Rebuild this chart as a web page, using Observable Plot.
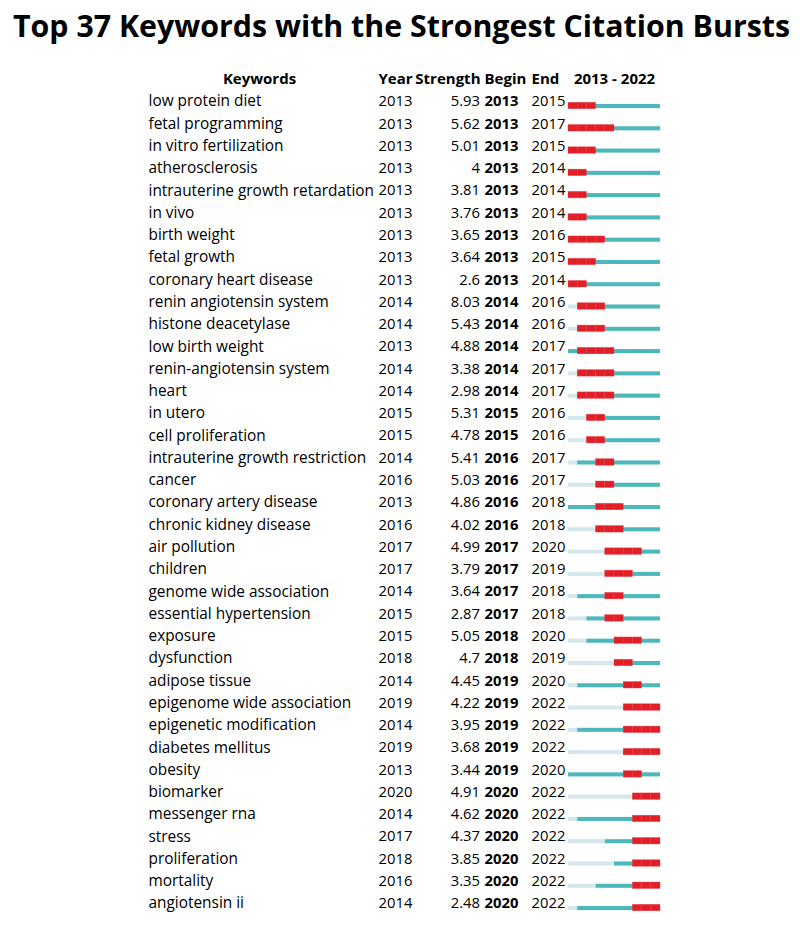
<!DOCTYPE html>
<html><head><meta charset="utf-8">
<script src="https://cdn.jsdelivr.net/npm/d3@7"></script>
<script src="https://cdn.jsdelivr.net/npm/@observablehq/plot@0.6"></script>
<style>
body{margin:0;background:#fff;width:800px;overflow:hidden;}
#title{height:55px;width:800px;position:relative;}
#title span{position:absolute;left:13px;top:5px;font-family:"Open Sans";font-weight:700;font-size:31px;line-height:40px;white-space:nowrap;color:#000;transform-origin:0 0;}
</style></head><body>
<div id="title"><span id="tt">Top 37 Keywords with the Strongest Citation Bursts</span></div>
<div id="chart"></div>
<script>
const keywords = ["low protein diet","fetal programming","in vitro fertilization","atherosclerosis","intrauterine growth retardation","in vivo","birth weight","fetal growth","coronary heart disease","renin angiotensin system","histone deacetylase","low birth weight","renin-angiotensin system","heart","in utero","cell proliferation","intrauterine growth restriction","cancer","coronary artery disease","chronic kidney disease","air pollution","children","genome wide association","essential hypertension","exposure","dysfunction","adipose tissue","epigenome wide association","epigenetic modification","diabetes mellitus","obesity","biomarker","messenger rna","stress","proliferation","mortality","angiotensin ii"];
const years = [2013,2013,2013,2013,2013,2013,2013,2013,2013,2014,2014,2013,2014,2014,2015,2015,2014,2016,2013,2016,2017,2017,2014,2015,2015,2018,2014,2019,2014,2019,2013,2020,2014,2017,2018,2016,2014];
const strengths = ["5.93","5.62","5.01","4","3.81","3.76","3.65","3.64","2.6","8.03","5.43","4.88","3.38","2.98","5.31","4.78","5.41","5.03","4.86","4.02","4.99","3.79","3.64","2.87","5.05","4.7","4.45","4.22","3.95","3.68","3.44","4.91","4.62","4.37","3.85","3.35","2.48"];
const begins = [2013,2013,2013,2013,2013,2013,2013,2013,2013,2014,2014,2014,2014,2014,2015,2015,2016,2016,2016,2016,2017,2017,2017,2017,2018,2018,2019,2019,2019,2019,2019,2020,2020,2020,2020,2020,2020];
const ends = [2015,2017,2015,2014,2014,2014,2016,2015,2014,2016,2016,2017,2017,2017,2016,2016,2017,2017,2018,2018,2020,2019,2018,2018,2020,2019,2020,2022,2022,2022,2020,2022,2022,2022,2022,2022,2022];
const headers = ["Keywords","Year","Strength","Begin","End","2013 - 2022"];
const firstYear = 2013, lastYear = 2022;

const rows = keywords.map((k,i)=>({keyword:k, year:years[i], strength:strengths[i], begin:begins[i], end:ends[i]}));
const cells = rows.flatMap(r => d3.range(r.begin, r.end + 1).map(y => ({keyword:r.keyword, y0:y, y1:y+1})));
const HEAD = "\u0000header";
const yDomain = [HEAD, ...keywords];
const hdr = [{k:HEAD}];

const light = "#d4e7ea", teal = "#4db8bc", red = "#e21f26";
const x0 = d => firstYear;
const numFont = 14.8, hdrFont = 15;

const chart = Plot.plot({
  width: 800, height: 871,
  marginLeft: 568, marginRight: 140, marginTop: 12.6, marginBottom: 11.8,
  x: {domain:[firstYear, lastYear + 1], axis:null},
  y: {type:"band", domain:yDomain, padding:0, round:false, axis:null},
  style: {fontFamily:"'Open Sans'", fontSize:"15.4px", color:"#000", background:"#fff"},
  marks: [
    Plot.barX(rows, {x1: x0, x2: "year", y: "keyword", insetTop: 14.1, insetBottom: 4.1, fill: light}),
    Plot.barX(rows, {x1: "year", x2: d => lastYear + 1, y: "keyword", insetTop: 14.1, insetBottom: 4.1, fill: teal}),
    Plot.barX(cells, {x1: "y0", x2: "y1", y: "keyword", insetTop: 12.4, insetBottom: 3.4, fill: red, stroke: "#e8454b", strokeWidth: 0.4}),
    Plot.text(rows, {x: x0, y: "keyword", text: "keyword", textAnchor: "start", dx: -420, fill: "#000"}),
    Plot.text(rows, {x: x0, y: "keyword", text: d => String(d.year), textAnchor: "start", dx: -190, fontSize: numFont, fill: "#000"}),
    Plot.text(rows, {x: x0, y: "keyword", text: "strength", textAnchor: "end", dx: -88.5, fontSize: numFont, fill: "#000"}),
    Plot.text(rows, {x: x0, y: "keyword", text: d => String(d.begin), textAnchor: "start", dx: -84, fontWeight: "bold", fontSize: numFont, fill: "#000"}),
    Plot.text(rows, {x: x0, y: "keyword", text: d => String(d.end), textAnchor: "start", dx: -37, fontSize: numFont, fill: "#000"}),
    Plot.text(hdr, {x: x0, y: "k", text: d => headers[0], textAnchor: "middle", dx: -309, fontWeight: "bold", fontSize: hdrFont, fill: "#000"}),
    Plot.text(hdr, {x: x0, y: "k", text: d => headers[1], textAnchor: "start", dx: -190, fontWeight: "bold", fontSize: hdrFont, fill: "#000"}),
    Plot.text(hdr, {x: x0, y: "k", text: d => headers[2], textAnchor: "end", dx: -88, fontWeight: "bold", fontSize: hdrFont, fill: "#000"}),
    Plot.text(hdr, {x: x0, y: "k", text: d => headers[3], textAnchor: "start", dx: -84, fontWeight: "bold", fontSize: hdrFont, fill: "#000"}),
    Plot.text(hdr, {x: x0, y: "k", text: d => headers[4], textAnchor: "start", dx: -37, fontWeight: "bold", fontSize: hdrFont, fill: "#000"}),
    Plot.text(hdr, {x: x0, y: "k", text: d => headers[5], textAnchor: "middle", dx: 46, fontWeight: "bold", fontSize: hdrFont, fill: "#000"})
  ]
});
document.getElementById("chart").append(chart);
const tt = document.getElementById("tt");
const w = tt.getBoundingClientRect().width;
tt.style.transform = `scaleX(${777 / w})`;
</script>
</body></html>
